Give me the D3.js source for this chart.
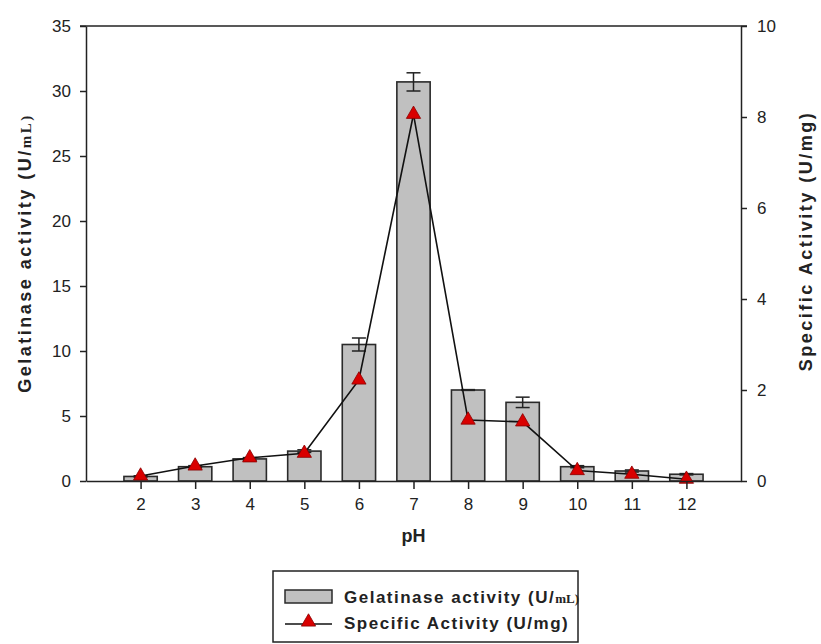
<!DOCTYPE html>
<html>
<head>
<meta charset="utf-8">
<script src="https://cdn.jsdelivr.net/npm/d3@7"></script>
<style>
  body { margin: 0; background: #fff; }
  svg { display: block; }
</style>
</head>
<body>
<div id="chart"></div>
<script>
// pH series
const phValues = [2, 3, 4, 5, 6, 7, 8, 9, 10, 11, 12];
// Gelatinase activity (U/mL), left axis
const gelatinase = [0.35, 1.1, 1.7, 2.3, 10.5, 30.7, 7.0, 6.05, 1.1, 0.77, 0.52];
const gelatinaseErr = [0.05, 0.08, 0.1, 0.1, 0.5, 0.7, 0.03, 0.4, 0.08, 0.08, 0.05];
// Specific activity (U/mg), right axis
const specific = [0.11, 0.33, 0.51, 0.61, 2.22, 8.06, 1.34, 1.30, 0.23, 0.15, 0.04];
const leftTicks = [0, 5, 10, 15, 20, 25, 30, 35];
const rightTicks = [0, 2, 4, 6, 8, 10];

const width = 821, height = 644;
const plot = { left: 86, right: 741, top: 26, bottom: 481 };
const font = 'Arial, "Liberation Sans", sans-serif';
const serif = '"Liberation Serif", "Times New Roman", serif';

const data = phValues.map((p, i) => ({
  ph: p, gel: gelatinase[i], err: gelatinaseErr[i], spec: specific[i]
}));

const svg = d3.select('#chart').append('svg')
  .attr('width', width).attr('height', height);

const x = d3.scaleLinear().domain([1, 13]).range([plot.left, plot.right]);
const yL = d3.scaleLinear().domain([0, 35]).range([plot.bottom, plot.top]);
const yR = d3.scaleLinear().domain([0, 10]).range([plot.bottom, plot.top]);

const barW = x(1.61) - x(1);
const ink = '#222';

// bars
svg.append('g').selectAll('rect')
  .data(data)
  .join('rect')
  .attr('x', d => x(d.ph) - barW / 2)
  .attr('y', d => yL(d.gel))
  .attr('width', barW)
  .attr('height', d => yL(0) - yL(d.gel))
  .attr('fill', '#c0c0c0')
  .attr('stroke', '#2a2a2a')
  .attr('stroke-width', 1.6);

// error bars
const eb = svg.append('g').attr('stroke', ink).attr('stroke-width', 1.5);
data.forEach(d => {
  const cx = x(d.ph), hw = 7;
  eb.append('line').attr('x1', cx).attr('x2', cx)
    .attr('y1', yL(d.gel + d.err)).attr('y2', yL(d.gel - d.err));
  eb.append('line').attr('x1', cx - hw).attr('x2', cx + hw)
    .attr('y1', yL(d.gel + d.err)).attr('y2', yL(d.gel + d.err));
  eb.append('line').attr('x1', cx - hw).attr('x2', cx + hw)
    .attr('y1', yL(d.gel - d.err)).attr('y2', yL(d.gel - d.err));
});

// specific activity line
svg.append('path')
  .datum(data)
  .attr('fill', 'none')
  .attr('stroke', '#111')
  .attr('stroke-width', 1.6)
  .attr('d', d3.line().x(d => x(d.ph)).y(d => yR(d.spec)));

const tri = d3.symbol(d3.symbolTriangle).size(88);
svg.append('g').selectAll('path')
  .data(data)
  .join('path')
  .attr('transform', d => `translate(${x(d.ph)},${yR(d.spec)})`)
  .attr('d', tri)
  .attr('fill', '#d90000')
  .attr('stroke', '#8a0000')
  .attr('stroke-width', 0.8);

// axes
const styleAxis = g => {
  g.select('.domain').attr('stroke', ink).attr('stroke-width', 1.5);
  g.selectAll('.tick line').attr('stroke', ink).attr('stroke-width', 1.5);
  g.selectAll('.tick text').attr('fill', '#222').attr('font-size', '17px').attr('font-family', font);
};

svg.append('g')
  .attr('transform', `translate(0,${plot.bottom})`)
  .call(d3.axisBottom(x).tickValues(phValues).tickSize(8).tickSizeOuter(0).tickPadding(9))
  .call(styleAxis);

svg.append('g')
  .attr('transform', `translate(${plot.left},0)`)
  .call(d3.axisLeft(yL).tickValues(leftTicks).tickSize(6).tickSizeOuter(0).tickPadding(9))
  .call(styleAxis);

svg.append('g')
  .attr('transform', `translate(${plot.right},0)`)
  .call(d3.axisRight(yR).tickValues(rightTicks).tickSize(6).tickSizeOuter(0).tickPadding(10))
  .call(styleAxis);

// top frame line
svg.append('line')
  .attr('x1', plot.left - 6).attr('x2', plot.right + 6)
  .attr('y1', plot.top).attr('y2', plot.top)
  .attr('stroke', ink).attr('stroke-width', 1.5);

// axis titles
const leftTitle = svg.append('text')
  .attr('transform', `translate(31,253) rotate(-90)`)
  .attr('text-anchor', 'middle')
  .attr('font-family', font).attr('font-weight', 'bold').attr('font-size', '18px')
  .attr('letter-spacing', '2.5px')
  .attr('fill', '#222');
leftTitle.append('tspan').text('Gelatinase activity (U/');
leftTitle.append('tspan').attr('font-family', serif)
  .attr('font-size', '15px').text('mL)');

svg.append('text')
  .attr('transform', `translate(812,241) rotate(-90)`)
  .attr('text-anchor', 'middle')
  .attr('font-family', font).attr('font-weight', 'bold').attr('font-size', '18px')
  .attr('letter-spacing', '2.5px')
  .attr('fill', '#222')
  .text('Specific Activity (U/mg)');

svg.append('text')
  .attr('x', (plot.left + plot.right) / 2).attr('y', 542)
  .attr('text-anchor', 'middle')
  .attr('font-family', font).attr('font-weight', 'bold').attr('font-size', '18px')
  .attr('fill', '#222')
  .text('pH');

// legend
const lg = svg.append('g');
lg.append('rect')
  .attr('x', 273).attr('y', 571).attr('width', 305).attr('height', 71)
  .attr('fill', '#fff').attr('stroke', ink).attr('stroke-width', 1.5);
lg.append('rect')
  .attr('x', 285).attr('y', 590).attr('width', 47).attr('height', 13)
  .attr('fill', '#c0c0c0').attr('stroke', '#2a2a2a').attr('stroke-width', 1.5);
const lt1 = lg.append('text')
  .attr('x', 344).attr('y', 603)
  .attr('font-family', font).attr('font-weight', 'bold').attr('font-size', '17px')
  .attr('letter-spacing', '1.5px').attr('fill', '#222');
lt1.append('tspan').text('Gelatinase activity (U/');
lt1.append('tspan').attr('font-family', serif)
  .attr('font-size', '13px').attr('letter-spacing', '0px').text('mL)');
lg.append('line')
  .attr('x1', 285).attr('x2', 332).attr('y1', 624).attr('y2', 624)
  .attr('stroke', '#111').attr('stroke-width', 1.5);
lg.append('path')
  .attr('transform', 'translate(308.5,622)')
  .attr('d', tri)
  .attr('fill', '#d90000').attr('stroke', '#8a0000').attr('stroke-width', 0.8);
lg.append('text')
  .attr('x', 344).attr('y', 629)
  .attr('font-family', font).attr('font-weight', 'bold').attr('font-size', '17px')
  .attr('letter-spacing', '1.5px').attr('fill', '#222')
  .text('Specific Activity (U/mg)');
</script>
</body>
</html>
